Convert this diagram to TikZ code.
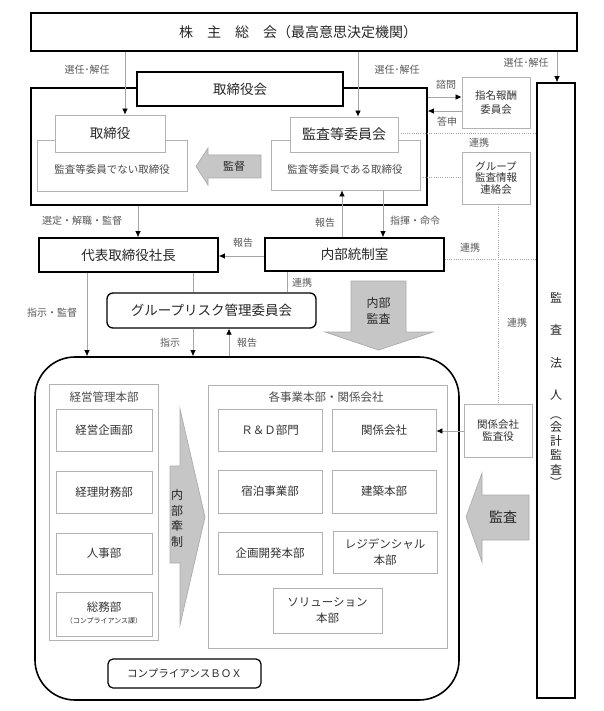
\documentclass[tikz,border=0pt]{standalone}
\usepackage{fontspec}
\setmainfont{Noto Sans CJK JP}
\usetikzlibrary{arrows.meta}
\begin{document}
\begin{tikzpicture}[x=1pt,y=-1pt,
 thickbox/.style={draw=black,line width=1.6pt,fill=white,inner sep=0pt,text=black!85,align=center},
 graybox/.style={draw=gray!60,line width=0.8pt,fill=white,inner sep=0pt,text=black!80,align=center},
 maintxt/.style={text=black!85,inner sep=0pt,align=center},
 subtxt/.style={text=black!70,inner sep=0pt,align=center},
 lbl/.style={text=black!65,inner sep=0pt,font=\fontsize{10}{12}\selectfont},
 conn/.style={draw=gray!70,line width=0.7pt},
 arr/.style={conn,-{Latex[length=6pt,width=5.5pt,color=black]}},
 dotline/.style={draw=gray!70,line width=0.7pt,dash pattern=on 1pt off 1.2pt},
 fatarrow/.style={draw=gray!65,fill=gray!45,line width=0.7pt},
 fA/.style={font=\fontsize{14}{16}\selectfont},
 fB/.style={font=\fontsize{13.5}{15}\selectfont},
 fC/.style={font=\fontsize{11.5}{14}\selectfont},
 fD/.style={font=\fontsize{10.5}{12}\selectfont},
]
\useasboundingbox (0,0) rectangle (604,711);
\fill[white] (0,0) rectangle (604,711);

% ---------- helper x / y coordinates ----------
\coordinate (x87) at (87,0);
\coordinate (x125) at (125,0);
\coordinate (x138) at (138,0);
\coordinate (x193) at (193,0);
\coordinate (x229) at (229,0);
\coordinate (x287) at (287,0);
\coordinate (x342) at (342,0);
\coordinate (x358) at (358,0);
\coordinate (x383) at (383,0);
\coordinate (x498) at (498,0);
\coordinate (x557) at (557,0);
\coordinate (y97) at (0,97);
\coordinate (y111) at (0,111);
\coordinate (y133) at (0,133);
\coordinate (y177) at (0,177);
\coordinate (y256) at (0,256);
\coordinate (y259) at (0,259);
\coordinate (y431) at (0,431);

% ---------- top ----------
\node[thickbox,minimum width=546pt,minimum height=38pt] (top) at (304,32) {};
\node[maintxt,fA] (toptxt) at (298,32) {株　主　総　会（最高意思決定機関）};

% ---------- board frame ----------
\node[thickbox,fill=none,minimum width=396pt,minimum height=117pt] (frame) at (229,146.5) {};
\node[thickbox,minimum width=206pt,minimum height=34pt,fB] (tbk) at (240,89) {取締役会};

\node[graybox,minimum width=150pt,minimum height=51pt] (notwide) at (112,165.5) {};
\node[subtxt,fD] (nottxt) at (112,169) {監査等委員でない取締役};
\node[graybox,minimum width=110pt,minimum height=37pt,fB,text=black!85] (tori) at (110,133.5) {取締役};

\node[graybox,minimum width=149pt,minimum height=50pt] (iswide) at (345.5,165) {};
\node[subtxt,fD] (istxt) at (345,169) {監査等委員である取締役};
\node[graybox,minimum width=108pt,minimum height=35pt,fA,text=black!85] (kansa) at (344,134.5) {監査等委員会};

\draw[fatarrow] (196,166.5) -- (208,148) -- (208,155) -- (261,155) -- (261,178) -- (208,178) -- (208,185) -- cycle;
\node[maintxt,font=\fontsize{11}{13}\selectfont] (kantoku) at (234,166.5) {監督};

% ---------- right small boxes ----------
\node[graybox,minimum width=68pt,minimum height=51pt,font=\fontsize{10.5}{14}\selectfont] (shimei) at (496,102.5) {指名報酬\\委員会};
\node[graybox,minimum width=68pt,minimum height=52pt,font=\fontsize{10.5}{11.5}\selectfont] (group) at (496,178) {グループ\\監査情報\\連絡会};
\node[graybox,minimum width=68pt,minimum height=53pt,font=\fontsize{10.5}{12.5}\selectfont] (kgkansa) at (498,430.5) {関係会社\\監査役};

% ---------- audit firm ----------
\node[thickbox,minimum width=38pt,minimum height=615pt] (hojin) at (556,390.5) {};
\node[maintxt,font=\fontsize{12}{32.3}\selectfont] (hojintxt) at (556,346.5) {監\\査\\法\\人};
\node[maintxt,font=\fontsize{12}{14.3}\selectfont] (kaikei) at (556,448) {会\\計\\監\\査};
\node[maintxt,font=\fontsize{12}{14}\selectfont,rotate=-90] (parl) at (556,414) {（};
\node[maintxt,font=\fontsize{12}{14}\selectfont,rotate=-90] (parr) at (556,482) {）};

% ---------- president / internal control ----------
\node[thickbox,minimum width=179pt,minimum height=34pt,fB] (pres) at (128.5,255) {代表取締役社長};
\node[thickbox,minimum width=179pt,minimum height=33pt,fB] (naibu) at (354.5,254.5) {内部統制室};
\node[thickbox,line width=1.3pt,rounded corners=6pt,minimum width=209pt,minimum height=35pt,fB] (grc) at (211.5,310.5) {グループリスク管理委員会};

\draw[fatarrow] (351,281) -- (406,281) -- (406,332) -- (433,332) -- (378.5,350) -- (325,332) -- (351,332) -- cycle;
\node[maintxt,font=\fontsize{12}{16}\selectfont] (naibukansa) at (378.5,311) {内部\\監査};

% ---------- big rounded box ----------
\node[thickbox,fill=none,rounded corners=40pt,minimum width=424pt,minimum height=343pt] (big) at (247,528.5) {};

\node[graybox,minimum width=109pt,minimum height=256pt] (keiei) at (103.5,512) {};
\node[subtxt,fC] (keieitxt) at (104,397) {経営管理本部};
\node[graybox,minimum width=96pt,minimum height=42pt,fC] (kikaku) at (104,430) {経営企画部};
\node[graybox,minimum width=96pt,minimum height=42pt,fC] (zaimu) at (104,492) {経理財務部};
\node[graybox,minimum width=96pt,minimum height=41pt,fC] (jinji) at (104,553.5) {人事部};
\node[graybox,minimum width=96pt,minimum height=44pt] (somu) at (104,614) {};
\node[maintxt,fC,text=black!80] (somutxt) at (104,607.5) {総務部};
\node[maintxt,font=\fontsize{7}{8}\selectfont,text=black!80] (compka) at (104,620.5) {（コンプライアンス課）};

\draw[fatarrow] (170,466) -- (180,466) -- (180,409) -- (205,517) -- (180,625) -- (180,563) -- (170,563) -- cycle;
\node[maintxt,font=\fontsize{12}{15.6}\selectfont] (kensei) at (177,518.5) {内\\部\\牽\\制};

\node[graybox,minimum width=239pt,minimum height=263pt] (jigyo) at (327.5,516.5) {};
\node[subtxt,fC] (jigyotxt) at (326,397) {各事業本部・関係会社};
\node[graybox,minimum width=104pt,minimum height=42pt,fC] (rd) at (270,430) {Ｒ＆Ｄ部門};
\node[graybox,minimum width=104pt,minimum height=42pt,fC] (kankei) at (384,430) {関係会社};
\node[graybox,minimum width=104pt,minimum height=43pt,fC] (shuku) at (270,491.5) {宿泊事業部};
\node[graybox,minimum width=104pt,minimum height=43pt,fC] (kenchiku) at (384,491.5) {建築本部};
\node[graybox,minimum width=104pt,minimum height=42pt,fC] (kaihatsu) at (270,553) {企画開発本部};
\node[graybox,minimum width=104pt,minimum height=42pt,font=\fontsize{11.5}{15.5}\selectfont] (resi) at (385,552) {レジデンシャル\\本部};
\node[graybox,minimum width=109pt,minimum height=45pt,font=\fontsize{11.5}{16.5}\selectfont] (solu) at (327.5,610.5) {ソリューション\\本部};

\node[thickbox,line width=1.2pt,rounded corners=5pt,minimum width=153pt,minimum height=29pt,font=\fontsize{10.5}{12}\selectfont] (cbox) at (184.5,673.5) {コンプライアンスＢＯＸ};

\draw[fatarrow] (466,517) -- (482,473) -- (482,495) -- (529,495) -- (529,540) -- (482,540) -- (482,562) -- cycle;
\node[maintxt,fA] (kansaarrow) at (503,517) {監査};

% ---------- connectors ----------
\draw[arr] (top.south -| x125) -- (tori.north -| x125);
\node[lbl] (l1) at (87,70) {選任･解任};
\draw[arr] (top.south -| x358) -- (kansa.north -| x358);
\node[lbl] (l2) at (397,70) {選任･解任};
\draw[arr] (top.south -| x557) -- (hojin.north -| x557);
\node[lbl] (l3) at (526,63) {選任･解任};

\draw[arr] (frame.east |- y97) -- (shimei.west |- y97);
\node[lbl] (l4) at (446,85) {諮問};
\draw[arr] (shimei.west |- y111) -- (frame.east |- y111);
\node[lbl] (l5) at (447,122) {答申};

\draw[dotline] (kansa.east |- y133) -- (hojin.west |- y133);
\node[lbl] (l6) at (479,143) {連携};
\draw[dotline] (iswide.east |- y177) -- (group.west |- y177);
\draw[dotline] (group.south -| x498) -- (kgkansa.north -| x498);
\node[lbl] (l7) at (517,323) {連携};
\draw[dotline] (naibu.east |- y259) -- (hojin.west |- y259);
\node[lbl] (l8) at (470,248) {連携};

\draw[arr] (frame.south -| x138) -- (pres.north -| x138);
\node[lbl] (l9) at (82,221) {選定・解職・監督};
\draw[arr] (naibu.west |- y256) -- (pres.east |- y256);
\node[lbl] (l10) at (243,243) {報告};
\draw[arr] (naibu.north -| x342) -- (iswide.south -| x342);
\node[lbl] (l11) at (325,223) {報告};
\draw[arr] (iswide.south -| x383) -- (naibu.north -| x383);
\node[lbl] (l12) at (415,221) {指揮・命令};

\draw[conn] (naibu.south -| x287) -- (grc.north -| x287);
\node[lbl] (l13) at (302,283) {連携};
\draw[arr] (pres.south -| x87) -- (big.north -| x87);
\node[lbl] (l14) at (52,313) {指示・監督};
\draw[conn] (pres.south -| x193) -- (grc.north -| x193);
\draw[arr] (grc.south -| x193) -- (big.north -| x193);
\node[lbl] (l15) at (170,343) {指示};
\draw[arr] (big.north -| x229) -- (grc.south -| x229);
\node[lbl] (l16) at (247,343) {報告};

\draw[arr] (kgkansa.west |- y431) -- (kankei.east |- y431);
\end{tikzpicture}
\end{document}
